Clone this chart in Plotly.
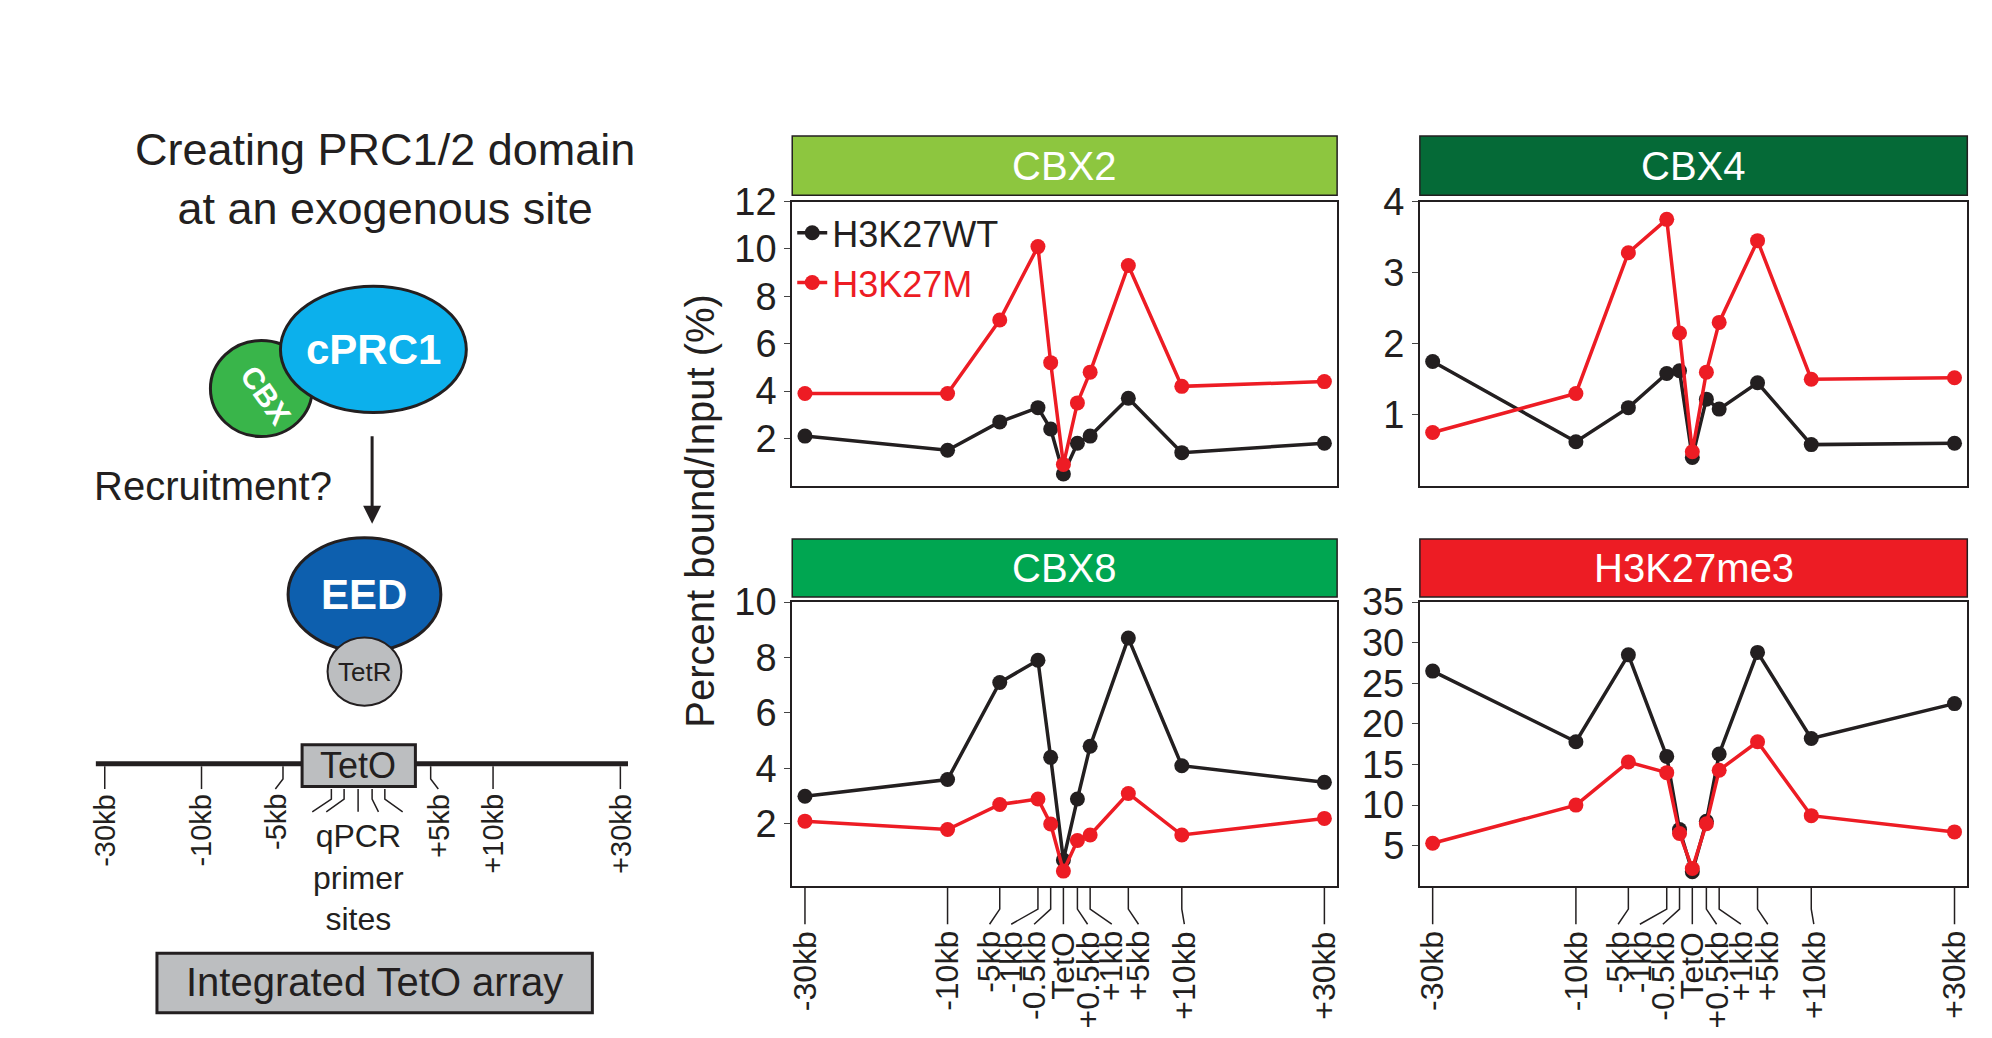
import plotly.graph_objects as go

W, H = 1560.0, 816.0  # design coords (scaled to the 1992x1038 page)
def px(x): return (x - 6) / 1.003 / W
def py(y): return 1 - (y - 18.4) / 0.9865 / H

FONT = "Liberation Sans, Arial, sans-serif"
INK = "#231F20"

sites = ["-30kb", "-10kb", "-5kb", "-1kb", "-0.5kb", "TetO", "+0.5kb", "+1kb", "+5kb", "+10kb", "+30kb"]
site_pos = [0, 112, 153, 183, 193, 203, 214, 224, 254, 296, 408]
label_pos = [0, 112, 145, 162, 180, 203, 222, 241, 262, 298, 408]

cbx2_wt = [2.1, 1.5, 2.7, 3.3, 2.4, 0.5, 1.8, 2.1, 3.7, 1.4, 1.8]
cbx2_m = [3.9, 3.9, 7.0, 10.1, 5.2, 0.9, 3.5, 4.8, 9.3, 4.2, 4.4]
cbx4_wt = [1.75, 0.62, 1.1, 1.58, 1.62, 0.4, 1.22, 1.08, 1.45, 0.58, 0.6]
cbx4_m = [0.75, 1.3, 3.28, 3.75, 2.15, 0.48, 1.6, 2.3, 3.45, 1.5, 1.52]
cbx8_wt = [3.0, 3.6, 7.1, 7.9, 4.4, 0.7, 2.9, 4.8, 8.7, 4.1, 3.5]
cbx8_m = [2.1, 1.8, 2.7, 2.9, 2.0, 0.3, 1.4, 1.6, 3.1, 1.6, 2.2]
k27_wt = [26.5, 17.8, 28.5, 16.0, 7.0, 1.8, 8.0, 16.3, 28.8, 18.2, 22.5]
k27_m = [5.3, 10.0, 15.3, 14.0, 6.5, 2.2, 7.7, 14.3, 17.8, 8.7, 6.7]

panels = [
    # title, header colour, wt, m, y range, ticks, x0, x1, ytop, ybot, header top, header bottom
    ("CBX2", "#8DC63F", cbx2_wt, cbx2_m, [0, 12], [2, 4, 6, 8, 10, 12], 622, 1050, 155, 380, 103, 150),
    ("CBX4", "#056A37", cbx4_wt, cbx4_m, [0, 4], [1, 2, 3, 4], 1115, 1545, 155, 380, 103, 150),
    ("CBX8", "#00A651", cbx8_wt, cbx8_m, [-0.25, 10], [2, 4, 6, 8, 10], 622, 1050, 472, 697, 422, 468),
    ("H3K27me3", "#ED1C24", k27_wt, k27_m, [0, 35], [5, 10, 15, 20, 25, 30, 35], 1115, 1545, 472, 697, 422, 468),
]

fig = go.Figure()
shapes, annots = [], []
layout = {}

def note(x, y, text, size, color=INK, xref="paper", **kw):
    a = dict(x=x, y=y, xref=xref, yref="paper", text=text, showarrow=False,
             xanchor="center", yanchor="middle", font=dict(size=size, family=FONT, color=color))
    a.update(kw)
    annots.append(a)

for i, (name, hc, wt, m, yr, ticks, x0, x1, yt, yb, ht, hb) in enumerate(panels):
    n = i + 1
    xa, ya = ("x" if n == 1 else f"x{n}"), ("y" if n == 1 else f"y{n}")
    for vals, col, nm in [(wt, INK, "H3K27WT"), (m, "#ED1C24", "H3K27M")]:
        fig.add_trace(go.Scatter(
            x=site_pos, y=vals, mode="lines+markers", xaxis=xa, yaxis=ya,
            line=dict(color=col, width=3.5), marker=dict(size=15, color=col),
            name=f"<span style='color:{col}'>{nm}</span>", showlegend=(n == 1),
            cliponaxis=False))
    layout["xaxis" if n == 1 else f"xaxis{n}"] = dict(
        domain=[px(x0), px(x1)], range=[-10, 418], showticklabels=False, ticks="",
        showgrid=False, zeroline=False, showline=True, mirror=True, linecolor=INK,
        linewidth=2, anchor=ya)
    layout["yaxis" if n == 1 else f"yaxis{n}"] = dict(
        domain=[py(yb), py(yt)], range=yr, tickvals=ticks, showgrid=False, zeroline=False,
        showline=True, mirror=True, linecolor=INK, linewidth=2, ticks="outside",
        ticklen=6, tickfont=dict(size=38, family=FONT, color=INK), anchor=xa)
    shapes.append(dict(type="rect", xref="paper", yref="paper", x0=px(x0), x1=px(x1),
                       y0=py(hb), y1=py(ht), fillcolor=hc, line=dict(color=INK, width=1.5)))
    note(px((x0 + x1) / 2), py((ht + hb) / 2), name, 40, "white")
    if n >= 3:
        ybase = py(yb)
        for sp, lp, lab in zip(site_pos, label_pos, sites):
            shapes.append(dict(type="path", xref=xa, yref="paper",
                               path=f"M {sp},{ybase} L {sp},{py(yb + 18)} L {lp},{py(yb + 30)}",
                               line=dict(color=INK, width=1.5)))
            note(lp, py(yb + 34), lab, 32, xref=xa, textangle=-90, yanchor="top")

note(px(550), py(400), "Percent bound/Input (%)", 40, textangle=-90)

# ---- left schematic ----
note(px(302), py(137), "Creating PRC1/2 domain<br>at an exogenous site", 45)

def ellipse(cx, cy, rx, ry, fill, lw=3):
    shapes.append(dict(type="circle", xref="paper", yref="paper", x0=px(cx - rx), x1=px(cx + rx),
                       y0=py(cy + ry), y1=py(cy - ry), fillcolor=fill, line=dict(color=INK, width=lw)))
ellipse(205, 303, 40, 38, "#39B54A")
ellipse(293, 272, 73, 50, "#0CB0EC")
ellipse(286, 466, 60, 45, "#0D5FAE")
ellipse(286, 527, 29, 27, "#BCBEC0", lw=2)
note(px(208), py(308), "<b>CBX</b>", 30, "white", textangle=55)
note(px(293), py(272), "<b>cPRC1</b>", 42, "white")
note(px(286), py(466), "<b>EED</b>", 42, "white")
note(px(286), py(527), "TetR", 26)
note(px(167), py(380), "Recruitment?", 40)
note(px(281), py(601), "TetO", 36)
note(px(281), py(690), "qPCR<br>primer<br>sites", 32)
note(px(294), py(773), "Integrated TetO array", 40)
annots.append(dict(x=px(292), y=py(410), ax=0, ay=-89, xref="paper", yref="paper",
                   showarrow=True, arrowhead=2, arrowsize=1.2,
                   arrowwidth=3, arrowcolor=INK, text=""))
shapes.append(dict(type="line", xref="paper", yref="paper", x0=px(75), x1=px(493), y0=py(600), y1=py(600),
                   line=dict(color=INK, width=5)))
shapes.append(dict(type="rect", xref="paper", yref="paper", x0=px(237), x1=px(326), y0=py(618), y1=py(585),
                   fillcolor="#BCBEC0", line=dict(color=INK, width=3)))
shapes.append(dict(type="rect", xref="paper", yref="paper", x0=px(123), x1=px(465), y0=py(797), y1=py(750),
                   fillcolor="#BCBEC0", line=dict(color=INK, width=3)))
diag_ticks = [(82, 82, "-30kb"), (158, 158, "-10kb"), (222, 216, "-5kb"), (338, 344, "+5kb"),
              (387, 387, "+10kb"), (487, 487, "+30kb")]
for tx, lx, lab in diag_ticks:
    shapes.append(dict(type="path", xref="paper", yref="paper",
                       path=f"M {px(tx)},{py(602)} L {px(tx)},{py(612)} L {px(lx)},{py(620)}",
                       line=dict(color=INK, width=1.5)))
    note(px(lx), py(622), lab, 29, textangle=-90, yanchor="top")
for tx, lx in [(260, 245), (270, 256), (281, 281), (292, 297), (302, 316)]:
    shapes.append(dict(type="path", xref="paper", yref="paper",
                       path=f"M {px(tx)},{py(620)} L {px(tx)},{py(628)} L {px(lx)},{py(638)}",
                       line=dict(color=INK, width=1.5)))

layout.update(
    width=1992, height=1038, margin=dict(l=0, r=0, t=0, b=0),
    paper_bgcolor="white", plot_bgcolor="white", shapes=shapes, annotations=annots,
    legend=dict(x=px(622), y=py(156), xanchor="left", yanchor="top", bgcolor="rgba(0,0,0,0)",
                font=dict(size=36, family=FONT), itemwidth=30, tracegroupgap=0),
)
fig.update_layout(**layout)
fig.write_html("out.html")
